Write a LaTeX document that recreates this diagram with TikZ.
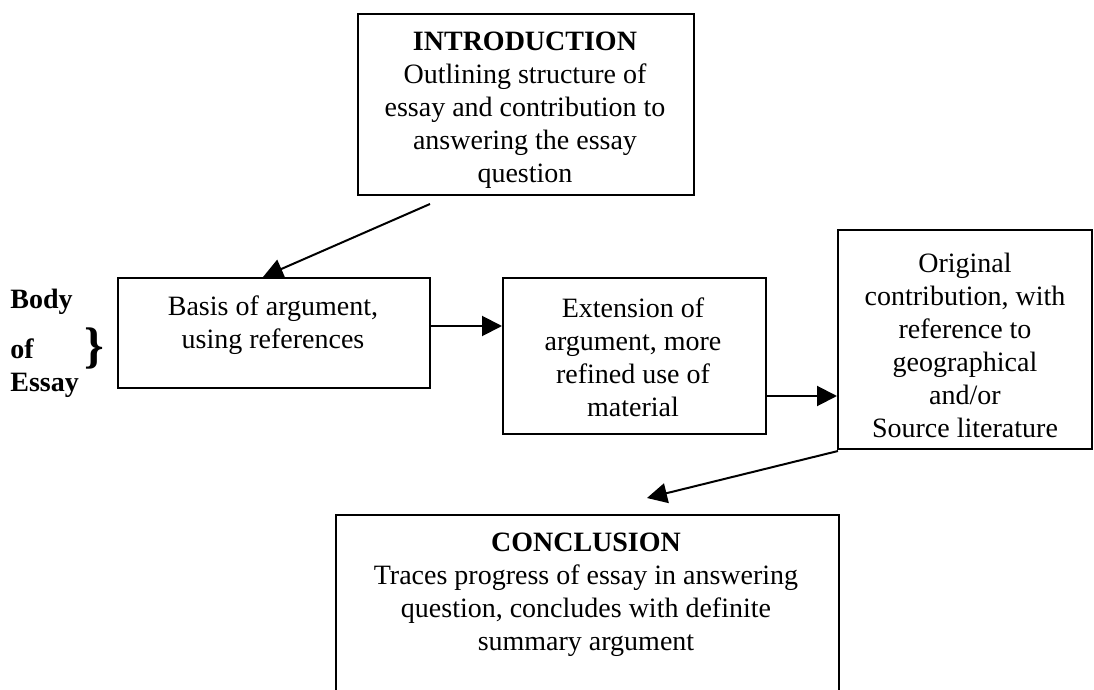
\documentclass[tikz,border=0pt]{standalone}
\usepackage{fontspec}
\setmainfont{Liberation Serif}
\usetikzlibrary{arrows.meta}
\begin{document}
\begin{tikzpicture}[x=0.5pt,y=-0.5pt,
  box/.style={draw, line width=1pt, inner sep=0pt, anchor=north west},
  txt/.style={align=center, inner sep=0pt, anchor=north, font=\fontsize{14}{16.5}\selectfont},
  side/.style={inner sep=0pt, anchor=base west, font=\fontsize{14}{16.5}\selectfont\bfseries},
  arr/.style={line width=1pt, -{Triangle[length=10pt,width=10pt]}}]
\clip (0,0) rectangle (1094,690);
% boxes
\node[box, minimum width=168pt, minimum height=90.5pt] (intro) at (357,13) {};
\node[box, minimum width=156pt, minimum height=55pt] (basis) at (117,277) {};
\node[box, minimum width=131.5pt, minimum height=78pt] (ext) at (502,277) {};
\node[box, minimum width=127pt, minimum height=109.5pt] (orig) at (837,229) {};
\node[box, minimum width=251.5pt, minimum height=100pt] (concl) at (335,514) {};
% texts
\node[txt] (introtxt) at (525,32) {\textbf{INTRODUCTION}\\Outlining structure of\\essay and contribution to\\answering the essay\\question};
\node[txt] (basistxt) at (273,295) {Basis of argument,\\using references};
\node[txt] (exttxt) at (633,297) {Extension of\\argument, more\\refined use of\\material};
\node[txt] (origtxt) at (965,253) {Original\\contribution, with\\reference to\\geographical\\and/or\\Source literature};
\node[txt] (concltxt) at (586,533) {\textbf{CONCLUSION}\\Traces progress of essay in answering\\question, concludes with definite\\summary argument};
% side label
\node[side] (body) at (10,308) {Body};
\node[side] (of) at (10,358) {of};
\node[side] (essay) at (10,392) {Essay};
\node[inner sep=0pt, font=\fontsize{25}{25}\selectfont\bfseries] (brace) at (94,348) {\}};
% connectors
\coordinate (a1) at (430,204);
\coordinate (a4) at (838,451);
\coordinate (a4t) at (647,498);
\draw[arr] (a1) -- ([xshift=73pt]basis.north west);
\draw[arr] ([yshift=3.5pt]basis.east) -- ([yshift=3.5pt]basis.east -| ext.west);
\draw[arr] ([yshift=-20pt]ext.east) -- ([yshift=-20pt]ext.east -| orig.west);
\draw[arr] (a4) -- (a4t);
\end{tikzpicture}
\end{document}
